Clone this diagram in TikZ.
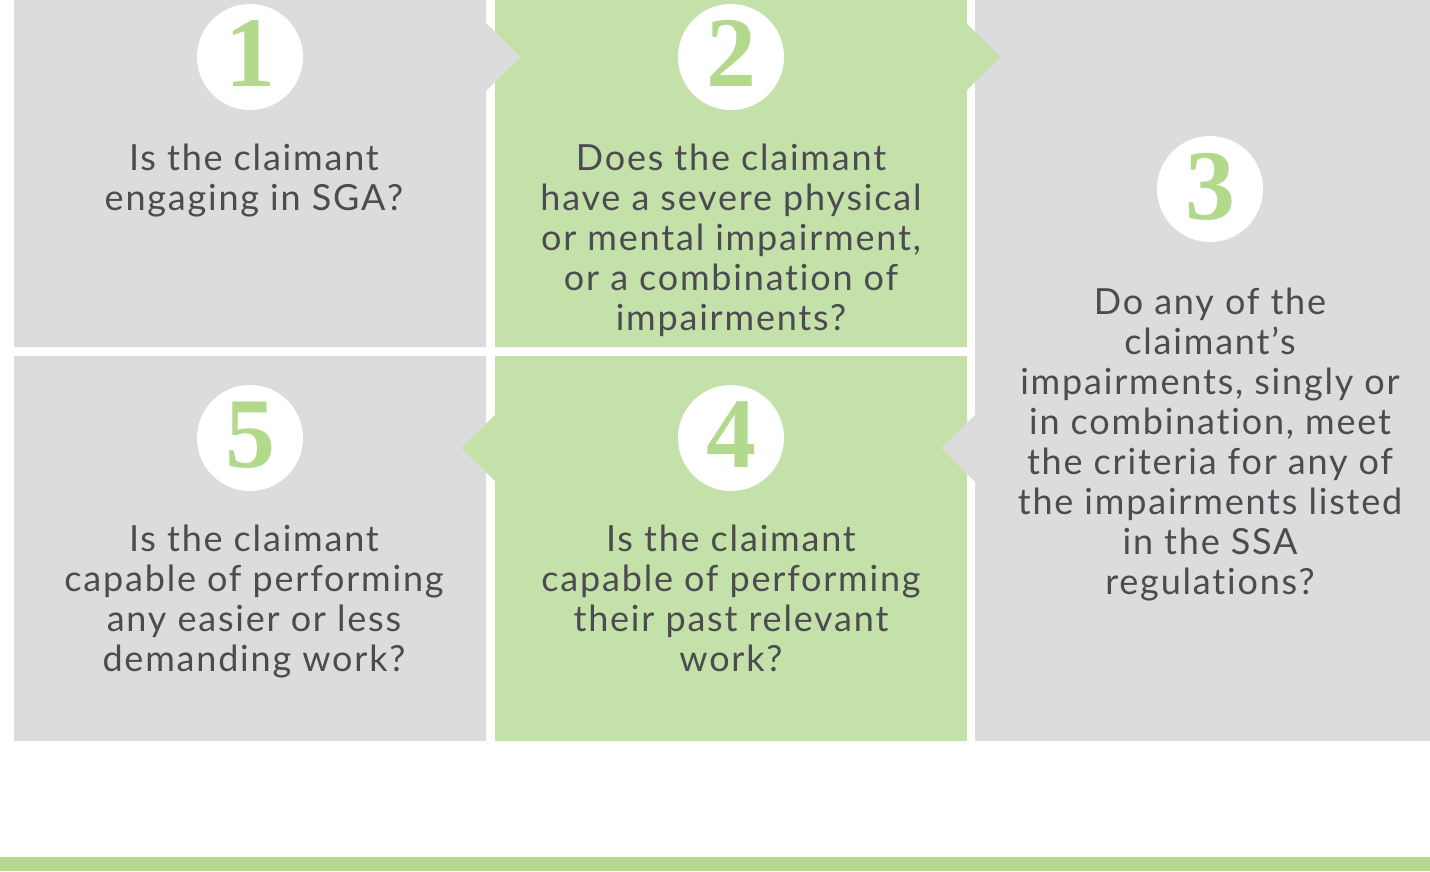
\documentclass[tikz,border=0pt]{standalone}
\usepackage{fontspec}
\setmainfont[LetterSpace=5,Ligatures=NoCommon]{Lato}
\newfontfamily\digitfont{Liberation Serif}
\definecolor{panelgray}{HTML}{DCDCDC}
\definecolor{panelgreen}{HTML}{C5E1AA}
\definecolor{digitgreen}{HTML}{B3D98D}
\definecolor{stripgreen}{HTML}{B3D98E}
\definecolor{bodytext}{HTML}{4B4B50}
\begin{document}
\begin{tikzpicture}[x=1pt,y=-1pt,
  badge/.style={circle,fill=white,minimum size=106pt,inner sep=0pt},
  numeral/.style={anchor=base,inner sep=0pt,text=digitgreen,
    font=\digitfont\bfseries\fontsize{100}{100}\selectfont},
  question/.style={anchor=base,align=center,inner sep=0pt,text=bodytext,
    font=\fontsize{36}{40}\selectfont}]
\useasboundingbox (0,0) rectangle (1430,871);
\fill[white] (0,0) rectangle (1430,871);

% step 5 (lower left)
\fill[panelgray] (14,356) rectangle (486,741);
% step 4 (lower middle) with its arrow pointing left
\fill[panelgreen] (495,356) -- (967,356) -- (967,741) -- (495,741)
  -- (495,481) -- (461,448) -- (495,415) -- cycle;
% step 3 (right column) with its arrow pointing left
\fill[panelgray] (975,0) -- (1430,0) -- (1430,741) -- (975,741)
  -- (975,482) -- (941,448) -- (975,415) -- cycle;
% step 2 (upper middle) with its arrow pointing right
\fill[panelgreen] (495,0) -- (967,0) -- (967,24) -- (1000,57) -- (967,90)
  -- (967,347) -- (495,347) -- cycle;
% step 1 (upper left) with its arrow pointing right
\fill[panelgray] (14,0) -- (486,0) -- (486,23) -- (520,57) -- (486,91)
  -- (486,347) -- (14,347) -- cycle;

% bottom rule
\fill[stripgreen] (0,857) rectangle (1430,871);

% numbered badges
\node[badge] (c1) at (250,57) {};
\node[badge] (c2) at (731,57) {};
\node[badge] (c3) at (1210,189) {};
\node[badge] (c4) at (731,438) {};
\node[badge] (c5) at (250,438) {};
\node[numeral] (n1) at (250,86) {1};
\node[numeral] (n2) at (731,86) {2};
\node[numeral] (n3) at (1210,219) {3};
\node[numeral] (n4) at (731,467) {4};
\node[numeral] (n5) at (250,467) {5};

% questions (anchored at the baseline of their last line)
\node[question] (q1) at (254,210) {Is the claimant\\engaging in SGA?};
\node[question] (q2) at (731,330) {Does the claimant\\have a severe physical\\or mental impairment,\\or a combination of\\impairments?};
\node[question] (q3) at (1210,594) {Do any of the\\claimant’s\\impairments, singly or\\in combination, meet\\the criteria for any of\\the impairments listed\\in the SSA\\regulations?};
\node[question] (q4) at (731,671) {Is the claimant\\capable of performing\\their past relevant\\work?};
\node[question] (q5) at (254,671) {Is the claimant\\capable of performing\\any easier or less\\demanding work?};
\end{tikzpicture}
\end{document}
